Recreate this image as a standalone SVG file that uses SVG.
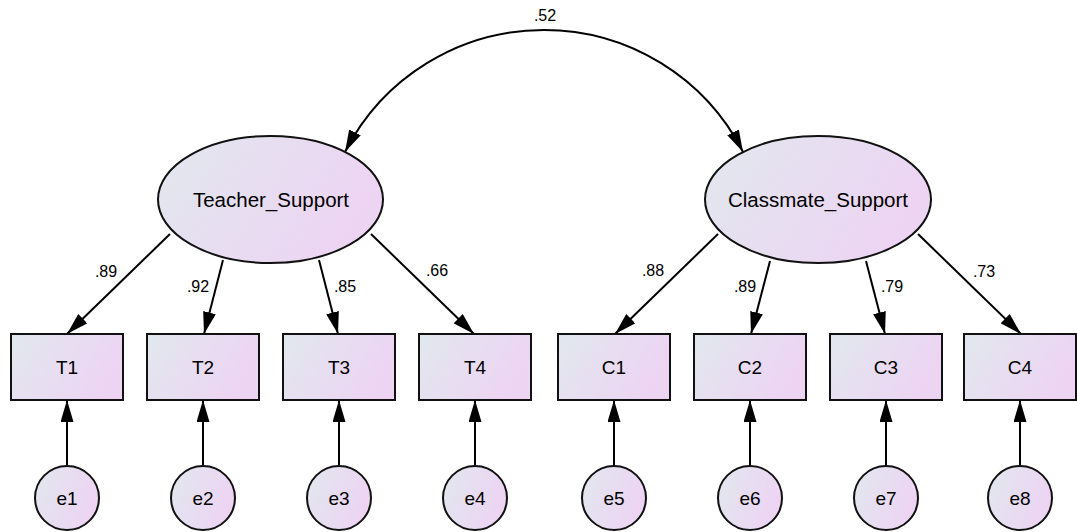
<svg xmlns="http://www.w3.org/2000/svg" width="1077" height="532" viewBox="0 0 1077 532">
<defs>
<linearGradient id="fillg" x1="0" y1="0" x2="1" y2="0.35">
<stop offset="0" stop-color="#e1e8ee"/>
<stop offset="1" stop-color="#edd4f3"/>
</linearGradient>
<marker id="ah" markerWidth="22" markerHeight="13" refX="22" refY="6.5" orient="auto-start-reverse" markerUnits="userSpaceOnUse">
<path d="M0,0 L22,6.5 L0,13 z" fill="#000"/>
</marker>
<style>
.shape{fill:url(#fillg);stroke:#111;stroke-width:2}
.lbl{font-family:"Liberation Sans",Arial,sans-serif;font-size:19px;fill:#000;text-anchor:middle}
.big{font-size:20.5px}
.coef{font-family:"Liberation Sans",Arial,sans-serif;font-size:16px;fill:#000;text-anchor:middle}
.conn{stroke:#000;stroke-width:2;fill:none;marker-end:url(#ah)}
</style>
</defs>
<rect width="1077" height="532" fill="#fff"/>
<g id="connectors">
<path class="conn" d="M345,152 A223.3,223.3 0 0 1 743,152" marker-start="url(#ah)"/>
<line class="conn" x1="170" y1="234" x2="67" y2="334"/>
<line class="conn" x1="223" y1="260" x2="204" y2="334"/>
<line class="conn" x1="319" y1="260" x2="338" y2="334"/>
<line class="conn" x1="371" y1="234" x2="474" y2="334"/>
<line class="conn" x1="718" y1="234" x2="615" y2="334"/>
<line class="conn" x1="770" y1="261" x2="751" y2="334"/>
<line class="conn" x1="866" y1="261" x2="885" y2="334"/>
<line class="conn" x1="918" y1="234" x2="1021" y2="334"/>
<line class="conn" x1="67" y1="466" x2="67" y2="400"/>
<line class="conn" x1="203" y1="466" x2="203" y2="400"/>
<line class="conn" x1="339" y1="466" x2="339" y2="400"/>
<line class="conn" x1="475" y1="466" x2="475" y2="400"/>
<line class="conn" x1="614" y1="466" x2="614" y2="400"/>
<line class="conn" x1="750" y1="466" x2="750" y2="400"/>
<line class="conn" x1="886" y1="466" x2="886" y2="400"/>
<line class="conn" x1="1020" y1="466" x2="1020" y2="400"/>
<text class="coef" x="545" y="21">.52</text>
<text class="coef" x="106" y="277">.89</text>
<text class="coef" x="198" y="292">.92</text>
<text class="coef" x="345" y="292">.85</text>
<text class="coef" x="437" y="276">.66</text>
<text class="coef" x="653" y="276">.88</text>
<text class="coef" x="745" y="292">.89</text>
<text class="coef" x="892" y="292">.79</text>
<text class="coef" x="984" y="277">.73</text>
</g>
<g id="Teacher_Support">
<ellipse class="shape" cx="270.5" cy="199.5" rx="112.5" ry="63.5"/>
<text class="lbl big" x="271" y="207">Teacher_Support</text>
</g>
<g id="Classmate_Support">
<ellipse class="shape" cx="818" cy="199.5" rx="113" ry="63.5"/>
<text class="lbl big" x="818" y="207">Classmate_Support</text>
</g>
<g id="T1"><rect class="shape" x="11" y="334" width="112" height="66"/><text class="lbl" x="67" y="374">T1</text></g>
<g id="T2"><rect class="shape" x="147" y="334" width="112" height="66"/><text class="lbl" x="203" y="374">T2</text></g>
<g id="T3"><rect class="shape" x="283" y="334" width="112" height="66"/><text class="lbl" x="339" y="374">T3</text></g>
<g id="T4"><rect class="shape" x="419" y="334" width="112" height="66"/><text class="lbl" x="475" y="374">T4</text></g>
<g id="C1"><rect class="shape" x="558" y="334" width="112" height="66"/><text class="lbl" x="614" y="374">C1</text></g>
<g id="C2"><rect class="shape" x="694" y="334" width="112" height="66"/><text class="lbl" x="750" y="374">C2</text></g>
<g id="C3"><rect class="shape" x="830" y="334" width="112" height="66"/><text class="lbl" x="886" y="374">C3</text></g>
<g id="C4"><rect class="shape" x="964" y="334" width="112" height="66"/><text class="lbl" x="1020" y="374">C4</text></g>
<g id="e1"><circle class="shape" cx="67" cy="498" r="32"/><text class="lbl" x="67" y="505">e1</text></g>
<g id="e2"><circle class="shape" cx="203" cy="498" r="32"/><text class="lbl" x="203" y="505">e2</text></g>
<g id="e3"><circle class="shape" cx="339" cy="498" r="32"/><text class="lbl" x="339" y="505">e3</text></g>
<g id="e4"><circle class="shape" cx="475" cy="498" r="32"/><text class="lbl" x="475" y="505">e4</text></g>
<g id="e5"><circle class="shape" cx="614" cy="498" r="32"/><text class="lbl" x="614" y="505">e5</text></g>
<g id="e6"><circle class="shape" cx="750" cy="498" r="32"/><text class="lbl" x="750" y="505">e6</text></g>
<g id="e7"><circle class="shape" cx="886" cy="498" r="32"/><text class="lbl" x="886" y="505">e7</text></g>
<g id="e8"><circle class="shape" cx="1020" cy="498" r="32"/><text class="lbl" x="1020" y="505">e8</text></g>
</svg>
